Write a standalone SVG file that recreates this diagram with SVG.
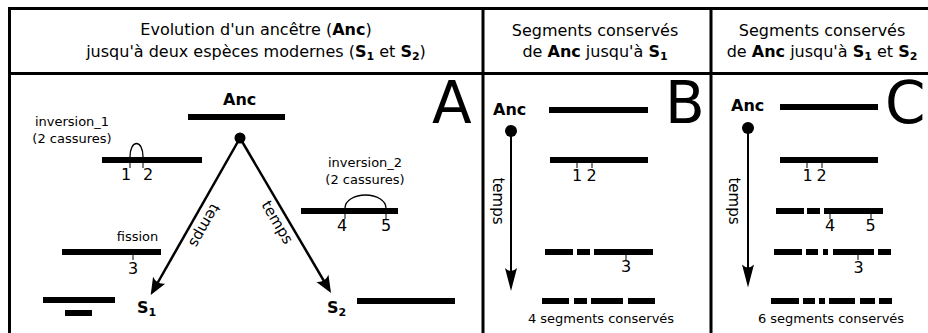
<svg xmlns="http://www.w3.org/2000/svg" width="928" height="333" viewBox="0 0 928 333">
<style>
.t{font-family:"DejaVu Sans",sans-serif;fill:#000}
.hdr{font-size:16px;text-anchor:middle}
.b{font-weight:bold}
.sub{font-size:11px}
.lbl{font-size:13px;text-anchor:middle}
.num{font-size:16px;text-anchor:middle}
.big{font-size:58px}
.anc{font-size:16px;font-weight:bold}
.bar{fill:#000}
.tick{stroke:#000;stroke-width:1}
.frame{stroke:#000;stroke-width:3;fill:none}
.arr{stroke:#000;stroke-width:2.5;fill:none}
.arc{stroke:#000;stroke-width:1.3;fill:none}
</style>
<defs>
<marker id="headA" markerUnits="userSpaceOnUse" orient="auto" refX="0" refY="0" markerWidth="40" markerHeight="40" overflow="visible">
<path d="M4,0 L-13,-7 Q-8,0 -13,7 Z" fill="#000"/>
</marker>
<marker id="headB" markerUnits="userSpaceOnUse" orient="auto" refX="0" refY="0" markerWidth="40" markerHeight="40" overflow="visible">
<path d="M4,0 L-19,-6 Q-13,0 -19,6 Z" fill="#000"/>
</marker>
</defs>
<rect width="928" height="333" fill="#fff"/>
<g id="frame">
<path class="frame" d="M9.5,333 V8.5 H928 M9.5,73.5 H928 M483,8.5 V333 M711,8.5 V333"/>
</g>
<g id="header-A">
<text class="t hdr" x="256" y="35">Evolution d'un ancêtre (<tspan class="b">Anc</tspan>)</text>
<text class="t hdr" x="256" y="57">jusqu'à deux espèces modernes (<tspan class="b">S</tspan><tspan class="b sub" dy="3">1</tspan><tspan dy="-3"> et </tspan><tspan class="b">S</tspan><tspan class="b sub" dy="3">2</tspan><tspan dy="-3">)</tspan></text>
</g>
<g id="header-B">
<text class="t hdr" x="595" y="36">Segments conservés</text>
<text class="t hdr" x="595" y="57">de <tspan class="b">Anc</tspan> jusqu'à <tspan class="b">S</tspan><tspan class="b sub" dy="3">1</tspan></text>
</g>
<g id="header-C">
<text class="t hdr" x="822" y="36">Segments conservés</text>
<text class="t hdr" x="822" y="57">de <tspan class="b">Anc</tspan> jusqu'à <tspan class="b">S</tspan><tspan class="b sub" dy="3">1</tspan><tspan dy="-3"> et </tspan><tspan class="b">S</tspan><tspan class="b sub" dy="3">2</tspan></text>
</g>
<g id="letters">
<text class="t big" x="432" y="123">A</text>
<text class="t big" x="665" y="123">B</text>
<text class="t big" x="885" y="123">C</text>
</g>
<g id="A-anc">
<text class="t anc" x="223" y="105">Anc</text>
<rect class="bar" x="188" y="114" width="97" height="6"/>
<circle cx="240" cy="138" r="5.5" fill="#000"/>
</g>
<g id="A-inversion1">
<text class="t lbl" x="72" y="126">inversion_1</text>
<text class="t lbl" x="72" y="143">(2 cassures)</text>
<rect class="bar" x="102" y="157" width="100" height="6"/>
<path class="arc" d="M130,157 C130,139 143,139 143,157"/>
<path class="tick" d="M130,163 V168 M143,163 V168"/>
<text class="t num" x="126" y="180">1</text>
<text class="t num" x="148" y="180">2</text>
</g>
<g id="A-inversion2">
<text class="t lbl" x="365" y="167">inversion_2</text>
<text class="t lbl" x="365" y="184">(2 cassures)</text>
<rect class="bar" x="301" y="208" width="97" height="6"/>
<path class="arc" d="M345,208 A20.5,13 0 0 1 386,208"/>
<path class="tick" d="M345,214 V219 M386,214 V219"/>
<text class="t num" x="342" y="231">4</text>
<text class="t num" x="386" y="231">5</text>
</g>
<g id="A-fission">
<text class="t lbl" x="137.5" y="241">fission</text>
<rect class="bar" x="62" y="249" width="99" height="6"/>
<path class="tick" d="M133,255 V260"/>
<text class="t num" x="133" y="274">3</text>
</g>
<g id="A-S1">
<rect class="bar" x="43" y="297" width="72" height="6"/>
<rect class="bar" x="65" y="310" width="27" height="6"/>
<text class="t anc" x="137" y="313">S<tspan class="sub" dy="3">1</tspan></text>
</g>
<g id="A-S2">
<rect class="bar" x="357" y="298" width="98" height="6"/>
<text class="t anc" x="327" y="313">S<tspan class="sub" dy="3">2</tspan></text>
</g>
<g id="connectors">
<path class="arr" d="M240,138 L152.7,291.5" marker-end="url(#headA)"/>
<path class="arr" d="M240,138 L329,289.6" marker-end="url(#headA)"/>
<text class="t lbl" style="font-size:15px" transform="translate(200.2,223.3) rotate(119.5)">temps</text>
<text class="t lbl" style="font-size:15px" transform="translate(273,224.9) rotate(59.6)">temps</text>
<path class="arr" style="stroke-width:2" d="M511,131 V287" marker-end="url(#headB)"/>
<text class="t lbl" style="font-size:15px" transform="translate(493,201) rotate(90)">temps</text>
<path class="arr" style="stroke-width:2" d="M748,128 V283.5" marker-end="url(#headB)"/>
<text class="t lbl" style="font-size:15px" transform="translate(729,201) rotate(90)">temps</text>
</g>
<g id="B-anc">
<text class="t anc" x="493" y="115">Anc</text>
<circle cx="511" cy="131" r="6" fill="#000"/>
<rect class="bar" x="549" y="107" width="99" height="6"/>
</g>
<g id="B-row2">
<rect class="bar" x="550" y="157" width="98" height="6"/>
<path class="tick" d="M577,163 V168 M592,163 V168"/>
<text class="t num" x="577" y="181">1</text>
<text class="t num" x="591.5" y="181">2</text>
</g>
<g id="B-row3">
<rect class="bar" x="545" y="249" width="28" height="6"/>
<rect class="bar" x="577" y="249" width="13" height="6"/>
<rect class="bar" x="594" y="249" width="59" height="6"/>
<path class="tick" d="M626,255 V260"/>
<text class="t num" x="626" y="272">3</text>
</g>
<g id="B-row4">
<rect class="bar" x="542" y="298" width="27" height="6"/>
<rect class="bar" x="574" y="298" width="13" height="6"/>
<rect class="bar" x="591" y="298" width="32" height="6"/>
<rect class="bar" x="628" y="298" width="27" height="6"/>
<text class="t lbl" x="601" y="323">4 segments conservés</text>
</g>
<g id="C-anc">
<text class="t anc" x="731" y="111">Anc</text>
<circle cx="748" cy="128" r="6" fill="#000"/>
<rect class="bar" x="780" y="104" width="98" height="6"/>
</g>
<g id="C-row2">
<rect class="bar" x="780" y="157" width="98" height="6"/>
<path class="tick" d="M807,163 V168 M822,163 V168"/>
<text class="t num" x="807.5" y="181">1</text>
<text class="t num" x="821.5" y="181">2</text>
</g>
<g id="C-row3">
<rect class="bar" x="776" y="208" width="28" height="6"/>
<rect class="bar" x="807" y="208" width="13" height="6"/>
<rect class="bar" x="824" y="208" width="59" height="6"/>
<path class="tick" d="M830,214 V219 M871,214 V219"/>
<text class="t num" x="830" y="231">4</text>
<text class="t num" x="870.5" y="231">5</text>
</g>
<g id="C-row4">
<rect class="bar" x="774" y="249" width="28" height="6"/>
<rect class="bar" x="806" y="249" width="12" height="6"/>
<rect class="bar" x="823" y="249" width="5" height="6"/>
<rect class="bar" x="833" y="249" width="41" height="6"/>
<rect class="bar" x="878" y="249" width="13" height="6"/>
<path class="tick" d="M858,255 V260"/>
<text class="t num" x="858.5" y="273">3</text>
</g>
<g id="C-row5">
<rect class="bar" x="771" y="298" width="28" height="6"/>
<rect class="bar" x="803" y="298" width="12" height="6"/>
<rect class="bar" x="819" y="298" width="6" height="6"/>
<rect class="bar" x="829" y="298" width="26" height="6"/>
<rect class="bar" x="860" y="298" width="15" height="6"/>
<rect class="bar" x="879" y="298" width="13" height="6"/>
<text class="t lbl" x="831" y="323">6 segments conservés</text>
</g>
</svg>
